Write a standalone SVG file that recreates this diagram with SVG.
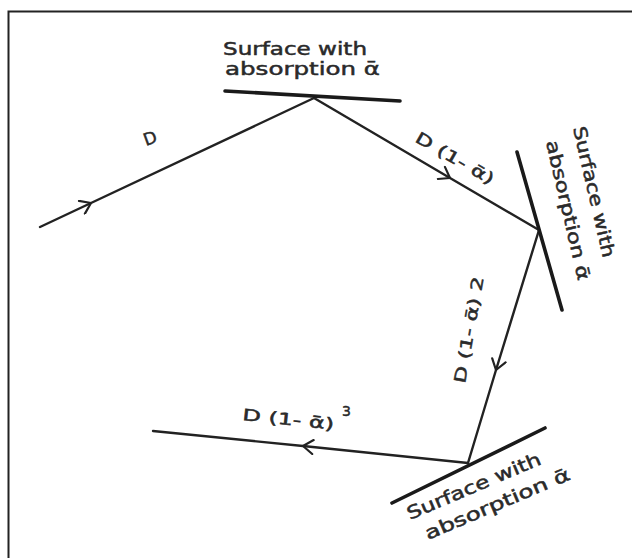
<svg xmlns="http://www.w3.org/2000/svg" width="632" height="558" viewBox="0 0 632 558">
<defs>
<marker id="chev" viewBox="-12 -8 14 16" markerWidth="14" markerHeight="16" refX="0" refY="0" orient="auto" markerUnits="userSpaceOnUse">
<path d="M-10,-7 L0,0 L-10,7" fill="none" stroke="#222" stroke-width="2.2" stroke-linecap="round" stroke-linejoin="round"/>
</marker>
<style>
.ray{fill:none;stroke:#222;stroke-width:2.4;stroke-linecap:round;marker-mid:url(#chev)}
.surf{fill:none;stroke:#1a1a1a;stroke-width:3.6;stroke-linecap:round}
.lbl{font-family:"DejaVu Sans","Liberation Sans",sans-serif;font-size:18px;fill:#2a2a2a;stroke:#2a2a2a;stroke-width:0.5}
.rl{font-family:"DejaVu Sans","Liberation Sans",sans-serif;font-size:16px;fill:#2a2a2a;stroke:#2a2a2a;stroke-width:0.5}
.frame{fill:none;stroke:#222;stroke-width:2}
</style>
</defs>
<rect width="632" height="558" fill="#fff"/>
<path class="frame" d="M8.5,558 V11.5 H632"/>
<g id="connectors">
<path class="ray" d="M40,227 L91,203 L314,98"/>
<path class="ray" d="M314,98 L450,178 L539,230"/>
<path class="ray" d="M539,230 L496,370 L468,463"/>
<path class="ray" d="M468,463 L303,446 L153,431"/>
</g>
<g id="surface-top">
<line class="surf" x1="225" y1="91" x2="400" y2="101"/>
<text class="lbl" x="223" y="55" textLength="144" lengthAdjust="spacingAndGlyphs">Surface with</text>
<text class="lbl" x="225" y="75" textLength="155" lengthAdjust="spacingAndGlyphs">absorption ᾱ</text>
</g>
<g id="surface-right">
<line class="surf" x1="517" y1="152" x2="562" y2="310"/>
<text class="lbl" transform="translate(573,128) rotate(77)" textLength="134" lengthAdjust="spacingAndGlyphs">Surface with</text>
<text class="lbl" transform="translate(546,142) rotate(77)" textLength="143" lengthAdjust="spacingAndGlyphs">absorption ᾱ</text>
</g>
<g id="surface-bottom">
<line class="surf" x1="392" y1="503" x2="545" y2="428"/>
<text class="lbl" transform="translate(410,520) rotate(-23)" textLength="144" lengthAdjust="spacingAndGlyphs">Surface with</text>
<text class="lbl" transform="translate(428,540) rotate(-23)" textLength="156" lengthAdjust="spacingAndGlyphs">absorption ᾱ</text>
</g>
<g id="label-d0">
<text class="rl" transform="translate(146,146) rotate(-20)" style="font-size:17px">D</text>
</g>
<g id="label-d1">
<text class="rl" transform="translate(414,141) rotate(30)" textLength="88" lengthAdjust="spacingAndGlyphs">D (1- ᾱ)</text>
</g>
<g id="label-d2">
<text class="rl" transform="translate(465,384) rotate(-80)" textLength="108" lengthAdjust="spacingAndGlyphs">D (1- ᾱ) 2</text>
</g>
<g id="label-d3">
<text class="rl" transform="translate(242,420) rotate(6)" textLength="92" lengthAdjust="spacingAndGlyphs">D (1- ᾱ)</text>
<text class="rl" x="342" y="416" style="font-size:14px">3</text>
</g>
</svg>
